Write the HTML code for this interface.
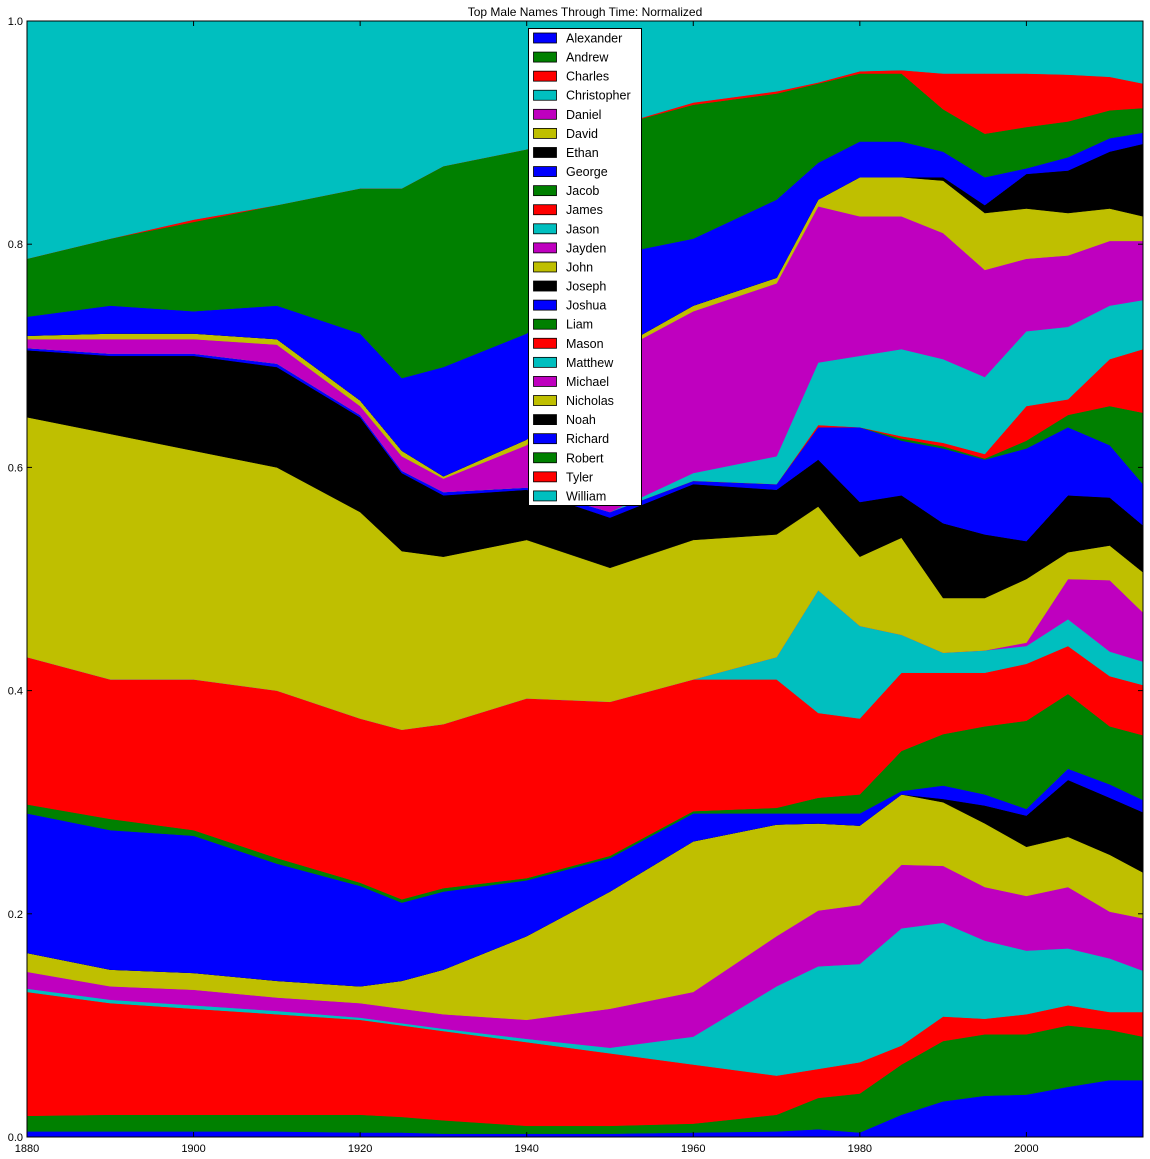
<!DOCTYPE html>
<html><head><meta charset="utf-8"><style>
body{margin:0;background:#fff;}
svg{display:block;font-family:"Liberation Sans",sans-serif;}
</style></head><body>
<svg id="chart" width="1150" height="1159" viewBox="0 0 1150 1159">
<text x="585" y="16" text-anchor="middle" font-size="12">Top Male Names Through Time: Normalized</text>
<g id="areas"></g>
<g id="axes"></g>
<g id="legend"></g>
</svg>
<script>
const years = [1880,1890,1900,1910,1920,1925,1930,1940,1950,1960,1970,1975,1980,1985,1990,1995,2000,2005,2010,2014];
const names = ["Alexander","Andrew","Charles","Christopher","Daniel","David","Ethan","George","Jacob","James","Jason","Jayden","John","Joseph","Joshua","Liam","Mason","Matthew","Michael","Nicholas","Noah","Richard","Robert","Tyler","William"];
const colors = ["#0000ff","#008000","#ff0000","#00bfbf","#bf00bf","#bfbf00","#000000"];
const xTicks = [1880,1900,1920,1940,1960,1980,2000];
const yTicks = ["0.0","0.2","0.4","0.6","0.8","1.0"];
// per-year shares (thousandths), series in names order
const y1880 = [5,14,111,3,15,17,0,125,8,132,0,0,215,60,2,0,0,0,8,3,0,17,52,0,213];
const y1890 = [5,15,100,3,12,15,0,125,10,125,0,0,220,70,2,0,0,0,13,5,0,25,60,0,195];
const y1900 = [5,15,95,3,14,15,0,123,5,135,0,0,205,85,2,0,0,0,13,5,0,20,80,2,178];
const y1910 = [5,15,90,3,12,15,0,105,5,150,0,0,200,90,3,0,0,0,17,5,0,30,90,0,165];
const y1920 = [4,16,85,2,13,15,0,90,3,147,0,0,185,85,2,0,0,0,8,5,0,60,130,0,150];
const y1925 = [4,14,82,2,13,25,0,70,3,152,0,0,160,70,2,0,0,0,13,5,0,65,170,0,150];
const y1930 = [3,12,80,2,13,40,0,70,3,147,0,0,150,55,3,0,0,0,12,2,0,98,180,0,130];
const y1940 = [3,7,75,3,17,75,0,50,2,161,0,0,142,45,2,0,0,0,38,5,0,95,165,0,115];
const y1950 = [3,7,65,5,35,105,0,30,2,138,0,0,120,45,5,0,0,0,140,3,0,87,115,0,95];
const y1960 = [4,8,53,25,40,135,0,25,2,118,0,0,125,50,3,0,0,7,145,5,0,60,120,2,73];
const y1970 = [5,15,35,80,45,100,0,10,5,115,20,0,110,40,5,0,0,25,155,5,0,70,95,2,63];
const y1975 = [7,28,26,92,50,78,0,9,14,76,110,0,75,42,29,0,2,56,140,6,0,33,71,1,55];
const y1980 = [4,35,28,88,53,71,0,11,17,68,83,0,62,49,67,0,0,64,125,35,0,32,61,2,45];
const y1985 = [20,45,17,105,57,63,0,3,36,70,34,0,87,38,49,2,2,78,119,35,0,32,61,3,44];
const y1990 = [32,54,22,84,51,57,3,12,46,55,18,0,49,67,67,2,3,75,113,47,3,23,38,32,47];
const y1995 = [37,55,14,70,48,57,16,10,61,48,20,0,47,57,67,1,4,69,96,51,7,25,39,54,47];
const y2000 = [38,54,18,57,49,44,28,6,79,51,16,3,57,34,83,7,31,67,65,45,31,5,37,48,47];
const y2005 = [45,55,18,51,55,45,51,10,67,43,24,36,24,51,61,11,14,65,64,38,38,12,32,42,48];
const y2010 = [51,45,16,48,42,51,51,12,52,45,22,64,31,43,47,35,42,48,58,29,51,12,25,30,50];
const y2014 = [51,39,22,37,47,41,54,11,58,45,21,44,36,42,37,64,57,44,53,22,65,10,22,22,56];
const rows = [y1880,y1890,y1900,y1910,y1920,y1925,y1930,y1940,y1950,y1960,y1970,y1975,y1980,y1985,y1990,y1995,y2000,y2005,y2010,y2014];

const NS = "http://www.w3.org/2000/svg";
const X0=27, X1=1143, Y0=1137, Y1=21;
const xs = v => X0 + (v-1880)/(2014-1880)*(X1-X0);
const ys = v => Y0 - v*(Y0-Y1);
function mk(tag, attrs, parent){const e=document.createElementNS(NS,tag);for(const k in attrs)e.setAttribute(k,attrs[k]);parent.appendChild(e);return e;}

const cum = rows.map(r=>{const s=r.reduce((a,b)=>a+b,0);let c=0;const out=[0];r.forEach(v=>{c+=v/s;out.push(c);});return out;});
const areas=document.getElementById('areas');
names.forEach((n,i)=>{
  let top=[],bot=[];
  years.forEach((yr,j)=>{top.push(xs(yr).toFixed(1)+","+ys(cum[j][i+1]).toFixed(1));bot.push(xs(yr).toFixed(1)+","+ys(cum[j][i]).toFixed(1));});
  const c=colors[i%7];
  const p=mk('polygon',{points:top.concat(bot.reverse()).join(" "),fill:c,stroke:c,'stroke-width':0.5},areas);
  
  
});

const axes=document.getElementById('axes');
const frame=mk('rect',{x:X0,y:Y1,width:X1-X0,height:Y0-Y1,fill:'none',stroke:'#000','stroke-width':1},axes);


xTicks.forEach(t=>{
  const x=xs(t);
  mk('line',{x1:x,x2:x,y1:Y0,y2:Y0-5,stroke:'#000'},axes);
  mk('line',{x1:x,x2:x,y1:Y1,y2:Y1+5,stroke:'#000'},axes);
  const tx=mk('text',{x:x,y:Y0+15,'text-anchor':'middle','font-size':11},axes);
  tx.textContent=t;
  
  
});
yTicks.forEach(t=>{
  const y=ys(parseFloat(t));
  mk('line',{x1:X0,x2:X0+5,y1:y,y2:y,stroke:'#000'},axes);
  mk('line',{x1:X1,x2:X1-5,y1:y,y2:y,stroke:'#000'},axes);
  const tx=mk('text',{x:X0-4,y:y+4,'text-anchor':'end','font-size':11},axes);
  tx.textContent=t;
  
  
});

const lg=document.getElementById('legend');
const box=mk('rect',{x:528.5,y:28.5,width:113,height:477,fill:'#fff',stroke:'#000','stroke-width':1},lg);


names.forEach((n,i)=>{
  const y=38+i*19.08;
  const g=mk('g',{},lg);
  
  
  mk('rect',{x:533.5,y:y-5,width:23,height:10,fill:colors[i%7],stroke:'#000','stroke-width':0.8},g);
  const t=mk('text',{x:566,y:y+4.5,'font-size':12.5},g);
  t.textContent=n;
});
</script>
</body></html>
